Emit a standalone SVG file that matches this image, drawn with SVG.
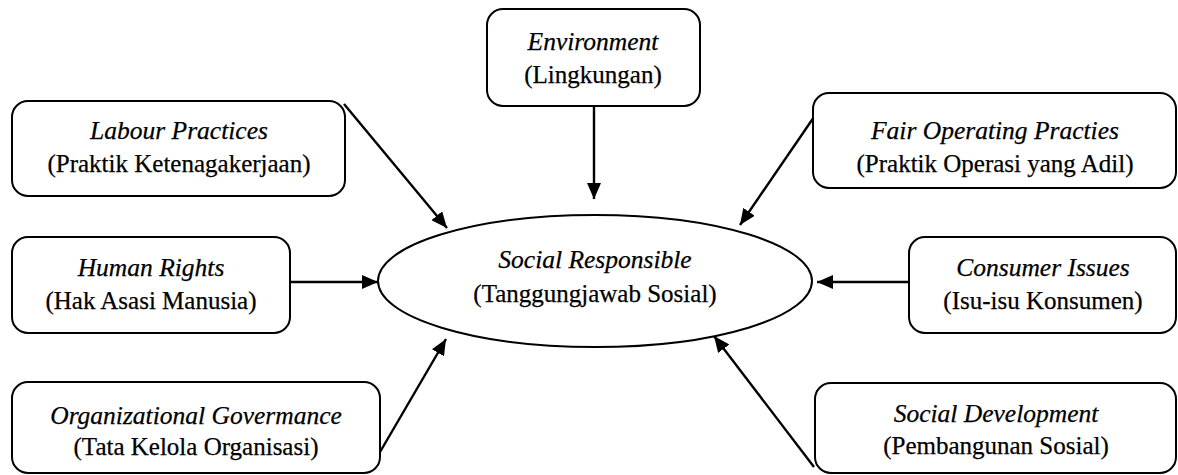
<svg xmlns="http://www.w3.org/2000/svg" width="1178" height="475" viewBox="0 0 1178 475">
<defs>
<marker id="ah" markerUnits="userSpaceOnUse" markerWidth="16" markerHeight="14" viewBox="0 0 16 14" refX="16" refY="7" orient="auto">
<path d="M0,0 L16,7 L0,14 Z" fill="#000"/>
</marker>
<style>
.box{fill:#fff;stroke:#000;stroke-width:2}
.t{font-family:'Liberation Serif','Times New Roman',serif;font-size:25px;fill:#000;stroke:#000;stroke-width:0.25;text-anchor:middle}
.i{font-style:italic;font-size:25.5px}
.c{stroke:#000;stroke-width:2.4;fill:none;marker-end:url(#ah)}
</style>
</defs>
<rect width="1178" height="475" fill="#fff"/>
<g id="connectors">
<line class="c" x1="594" y1="106" x2="594" y2="199"/>
<line class="c" x1="344" y1="104" x2="447" y2="228"/>
<line class="c" x1="814" y1="117" x2="740" y2="225"/>
<line class="c" x1="290" y1="282" x2="378" y2="282"/>
<line class="c" x1="909" y1="282" x2="817" y2="282"/>
<line class="c" x1="380" y1="452" x2="446" y2="339"/>
<line class="c" x1="814" y1="467" x2="714" y2="336"/>
</g>
<g id="center">
<ellipse cx="595" cy="281" rx="217" ry="66" fill="#fff" stroke="#000" stroke-width="2"/>
<text class="t i" x="595" y="268">Social Responsible</text>
<text class="t" x="595" y="302">(Tanggungjawab Sosial)</text>
</g>
<g id="environment">
<rect class="box" x="487" y="9" width="213" height="97" rx="16"/>
<text class="t i" x="593" y="50">Environment</text>
<text class="t" x="593" y="83">(Lingkungan)</text>
</g>
<g id="labour">
<rect class="box" x="12" y="101" width="333" height="95" rx="16"/>
<text class="t i" x="179" y="139">Labour Practices</text>
<text class="t" x="179" y="172">(Praktik Ketenagakerjaan)</text>
</g>
<g id="fair">
<rect class="box" x="813" y="93" width="363" height="95" rx="16"/>
<text class="t i" x="995" y="139">Fair Operating Practies</text>
<text class="t" x="995" y="172">(Praktik Operasi yang Adil)</text>
</g>
<g id="human">
<rect class="box" x="12" y="237" width="278" height="96" rx="16"/>
<text class="t i" x="151" y="276">Human Rights</text>
<text class="t" x="151" y="309">(Hak Asasi Manusia)</text>
</g>
<g id="consumer">
<rect class="box" x="909" y="237" width="267" height="96" rx="16"/>
<text class="t i" x="1043" y="276">Consumer Issues</text>
<text class="t" x="1043" y="309">(Isu-isu Konsumen)</text>
</g>
<g id="governance">
<rect class="box" x="12" y="382" width="368" height="91" rx="16"/>
<text class="t i" x="196" y="424">Organizational Govermance</text>
<text class="t" x="196" y="455">(Tata Kelola Organisasi)</text>
</g>
<g id="development">
<rect class="box" x="815" y="383" width="361" height="90" rx="16"/>
<text class="t i" x="996" y="422">Social Development</text>
<text class="t" x="996" y="454">(Pembangunan Sosial)</text>
</g>
</svg>
